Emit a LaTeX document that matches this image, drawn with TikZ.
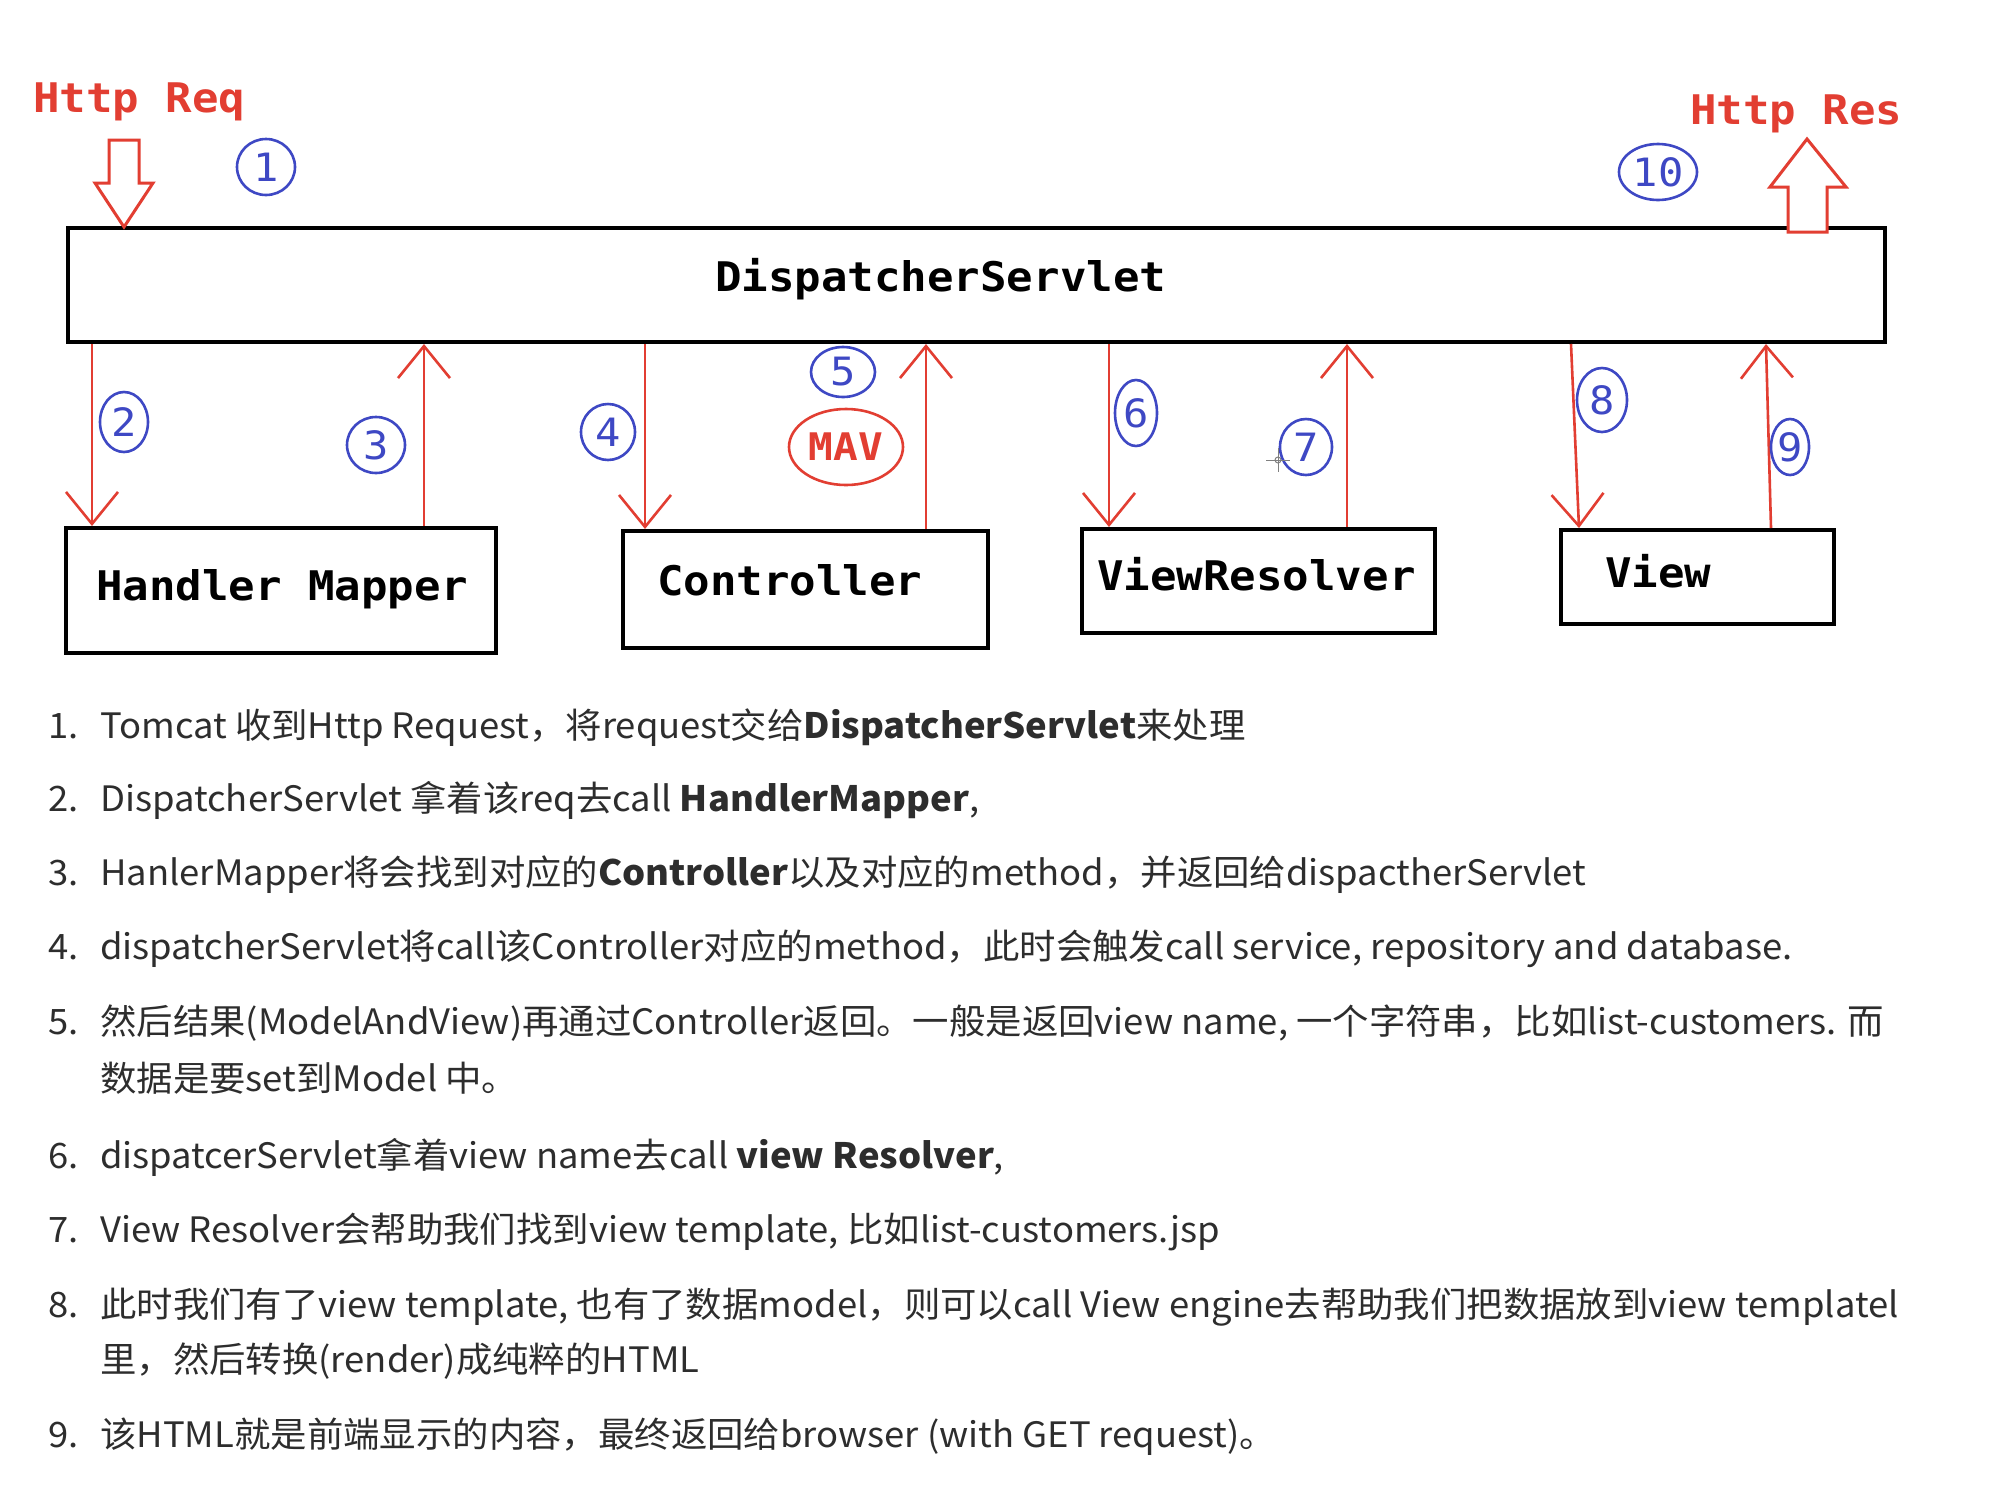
\documentclass[tikz,border=0pt]{standalone}
\usepackage{fontspec}
\setmainfont{Noto Sans CJK SC}[FakeStretch=1.04]
\newfontfamily\diafont[FakeStretch=1.08]{DejaVu Sans Mono}
\usetikzlibrary{arrows.meta,shapes.geometric}

\definecolor{arrowred}{RGB}{226,62,50}
\definecolor{badgeblue}{RGB}{62,72,196}
\definecolor{bodytext}{RGB}{45,45,45}

\tikzset{
  box/.style={draw, line width=4pt, inner sep=0pt},
  lbl/.style={anchor=base west, inner sep=0pt, font=\diafont\bfseries\fontsize{40.8}{48}\selectfont},
  flow/.style={draw=arrowred, line width=2.6pt, -{Straight Barb[length=32pt,width=52pt]}},
  hollow/.style={draw=arrowred, line width=3pt, line join=miter, fill=white},
  badge/.style={ellipse, draw=badgeblue, line width=2.6pt, text=badgeblue, inner sep=0pt, font=\diafont\fontsize{39}{42}\selectfont},
  item/.style={anchor=base west, inner sep=0pt, text=bodytext, font=\fontsize{35}{42}\selectfont}
}

\begin{document}
\begin{tikzpicture}[x=1pt,y=-1pt]
\fill[white] (0,0) rectangle (2014,1484);
\useasboundingbox (0,0) rectangle (2014,1484);

% boxes
\node[box, minimum width=1817pt, minimum height=114pt] (ds) at (976.5,285) {};
\node[box, minimum width=430pt, minimum height=125pt] (hm) at (281,590.5) {};
\node[box, minimum width=365pt, minimum height=117pt] (ctl) at (805.5,589.5) {};
\node[box, minimum width=353pt, minimum height=104pt] (vr) at (1258.5,581) {};
\node[box, minimum width=273pt, minimum height=94pt] (vw) at (1697.5,577) {};

\node[lbl] (dsT) at (715,291) {DispatcherServlet};
\node[lbl] (hmT) at (96,600) {Handler Mapper};
\node[lbl] (ctlT) at (657,595) {Controller};
\node[lbl] (vrT) at (1097,590) {ViewResolver};
\node[lbl] (vwT) at (1605,587) {View};

% request / response
\node[lbl, text=arrowred] (req) at (33,112) {Http Req};
\node[lbl, text=arrowred] (res) at (1690,124) {Http Res};
\draw[hollow] (109,140) -- (139,140) -- (139,183) -- (153,183) -- (124,227) -- (95,183) -- (109,183) -- cycle;
\draw[hollow] (1788,232) -- (1788,187) -- (1770,187) -- (1807,139) -- (1846,187) -- (1827,187) -- (1827,232) -- cycle;

% calls and returns
\coordinate (a2) at (92,0);
\coordinate (a3) at (424,0);
\coordinate (a4) at (645,0);
\coordinate (a5) at (926,0);
\coordinate (a6) at (1109,0);
\coordinate (a7) at (1347,0);
\coordinate (a8) at (1571,0);
\coordinate (b8) at (1579,0);
\coordinate (a9) at (1766,0);
\coordinate (b9) at (1771,0);

\draw[flow] (a2 |- ds.south) -- (a2 |- hm.north);
\draw[flow] (a3 |- hm.north) -- (a3 |- ds.south);
\draw[flow] (a4 |- ds.south) -- (a4 |- ctl.north);
\draw[flow] (a5 |- ctl.north) -- (a5 |- ds.south);
\draw[flow] (a6 |- ds.south) -- (a6 |- vr.north);
\draw[flow] (a7 |- vr.north) -- (a7 |- ds.south);
\draw[flow] (a8 |- ds.south) -- (b8 |- vw.north);
\draw[flow] (b9 |- vw.north) -- (a9 |- ds.south);

% step numbers
\node[badge, minimum width=58pt, minimum height=56pt] (b1) at (266,167) {1};
\node[badge, minimum width=48pt, minimum height=60pt] (b2) at (124,422) {2};
\node[badge, minimum width=58pt, minimum height=56pt] (b3) at (376,445) {3};
\node[badge, minimum width=54pt, minimum height=56pt] (b4) at (608,432) {4};
\node[badge, minimum width=64pt, minimum height=50pt] (b5) at (843,372) {5};
\node[badge, minimum width=42pt, minimum height=66pt] (b6) at (1136,413) {6};
\node[badge, minimum width=52pt, minimum height=56pt] (b7) at (1306,447) {7};
\node[badge, minimum width=50pt, minimum height=64pt] (b8n) at (1602,400) {8};
\node[badge, minimum width=38pt, minimum height=56pt] (b9n) at (1790,447) {9};
\node[badge, minimum width=78pt, minimum height=56pt] (b10) at (1658,172) {10};
\node[badge, draw=arrowred, text=arrowred, font=\diafont\bfseries\fontsize{38}{42}\selectfont, minimum width=114pt, minimum height=76pt] (mav) at (846,447) {MAV};

% cursor
\draw[gray, line width=1pt] (1266,460) -- (1290,460) (1278,448) -- (1278,472);
\draw[gray, line width=1pt] (1278,460) circle (3);

% notes
\node[item] (n1) at (48,738) {1.};
\node[item] (t1) at (100,738) {Tomcat 收到Http Request，将request交给\textbf{DispatcherServlet}来处理};
\node[item] (n2) at (48,811) {2.};
\node[item] (t2) at (100,811) {DispatcherServlet 拿着该req去call \textbf{HandlerMapper},};
\node[item] (n3) at (48,885) {3.};
\node[item] (t3) at (100,885) {HanlerMapper将会找到对应的\textbf{Controller}以及对应的method，并返回给dispactherServlet};
\node[item] (n4) at (48,959) {4.};
\node[item] (t4) at (100,959) {dispatcherServlet将call该Controller对应的method，此时会触发call service, repository and database.};
\node[item] (n5) at (48,1034) {5.};
\node[item] (t5) at (100,1034) {然后结果(ModelAndView)再通过Controller返回。一般是返回view name, 一个字符串，比如list-customers. 而};
\node[item] (t5b) at (100,1091) {数据是要set到Model 中。};
\node[item] (n6) at (48,1168) {6.};
\node[item] (t6) at (100,1168) {dispatcerServlet拿着view name去call \textbf{view Resolver},};
\node[item] (n7) at (48,1242) {7.};
\node[item] (t7) at (100,1242) {View Resolver会帮助我们找到view template, 比如list-customers.jsp};
\node[item] (n8) at (48,1317) {8.};
\node[item] (t8) at (100,1317) {此时我们有了view template, 也有了数据model，则可以call View engine去帮助我们把数据放到view templatel};
\node[item] (t8b) at (100,1372) {里，然后转换(render)成纯粹的HTML};
\node[item] (n9) at (48,1447) {9.};
\node[item] (t9) at (100,1447) {该HTML就是前端显示的内容，最终返回给browser (with GET request)。};
\end{tikzpicture}
\end{document}
